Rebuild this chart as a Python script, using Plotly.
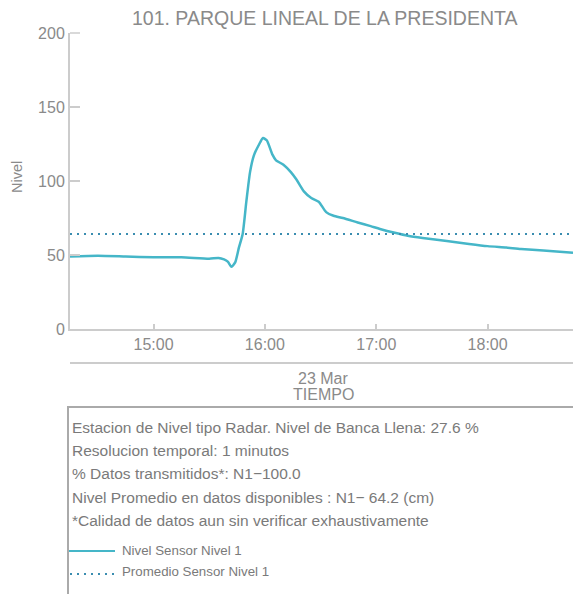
import plotly.graph_objects as go

# ---- data ----
times = ["2024-03-23 14:15", "2024-03-23 14:30", "2024-03-23 14:45", "2024-03-23 15:00",
         "2024-03-23 15:15", "2024-03-23 15:30", "2024-03-23 15:35", "2024-03-23 15:38",
         "2024-03-23 15:40", "2024-03-23 15:42", "2024-03-23 15:44", "2024-03-23 15:46",
         "2024-03-23 15:48", "2024-03-23 15:50", "2024-03-23 15:52", "2024-03-23 15:54",
         "2024-03-23 15:57", "2024-03-23 15:59", "2024-03-23 16:01", "2024-03-23 16:04",
         "2024-03-23 16:06", "2024-03-23 16:10", "2024-03-23 16:14", "2024-03-23 16:17",
         "2024-03-23 16:21", "2024-03-23 16:25", "2024-03-23 16:29", "2024-03-23 16:33",
         "2024-03-23 16:37", "2024-03-23 16:42", "2024-03-23 16:50", "2024-03-23 16:57",
         "2024-03-23 17:02", "2024-03-23 17:10", "2024-03-23 17:17", "2024-03-23 17:25",
         "2024-03-23 17:38", "2024-03-23 17:50", "2024-03-23 18:00", "2024-03-23 18:10",
         "2024-03-23 18:18", "2024-03-23 18:30", "2024-03-23 18:46"]
nivel = [49.0, 49.5, 49.0, 48.5,
         48.5, 47.5, 48.0, 47.0,
         45.5, 42.0, 45.0, 55.0,
         64.0, 86.0, 106.0, 117.0,
         125.0, 129.0, 127.5, 118.0,
         114.0, 111.0, 106.0, 101.0,
         93.0, 88.5, 86.0, 79.0,
         76.5, 75.0, 72.0, 69.5,
         67.6, 65.0, 63.0, 61.5,
         59.5, 57.5, 56.0, 55.0,
         54.0, 53.0, 51.5]
promedio = 64.2
x_range = ["2024-03-23 14:15", "2024-03-23 18:46"]
tick_vals = ["2024-03-23 15:00", "2024-03-23 16:00", "2024-03-23 17:00", "2024-03-23 18:00"]
tick_text = ["15:00", "16:00", "17:00", "18:00"]
y_ticks = [0, 50, 100, 150, 200]

title = "101. PARQUE LINEAL DE LA PRESIDENTA"
info_lines = ["Estacion de Nivel tipo Radar. Nivel de Banca Llena: 27.6 %",
              "Resolucion temporal: 1 minutos",
              "% Datos transmitidos*: N1\u2212100.0",
              "Nivel Promedio en datos disponibles : N1\u2212 64.2 (cm)",
              "*Calidad de datos aun sin verificar exhaustivamente"]
legend_labels = ["Nivel Sensor Nivel 1", "Promedio Sensor Nivel 1"]

# ---- styles ----
W, H = 573, 594
L, R, T, B = 70, 0, 33, 265
PW, PH = W - L - R, H - T - B
FONT = "Liberation Sans, Arial, sans-serif"
TXT = "#8a8a8a"
AX = "#cccccc"
LINE_C = "#45b6c8"
DOT_C = "#3a8db0"


def px(xp):
    return (xp - L) / PW


def py(yp):
    return (H - B - yp) / PH


fig = go.Figure()
fig.add_trace(go.Scatter(x=times, y=nivel, mode="lines",
                         line=dict(color=LINE_C, width=2.5, shape="spline", smoothing=0.6),
                         showlegend=False, hoverinfo="skip"))
fig.add_trace(go.Scatter(x=x_range, y=[promedio, promedio], mode="lines",
                         line=dict(color=DOT_C, width=2, dash="2px,5px"),
                         showlegend=False, hoverinfo="skip"))

shapes = [
    dict(type="line", xref="paper", yref="paper", x0=0, x1=px(80), y0=1, y1=1,
         line=dict(color=AX, width=1.5)),
    dict(type="line", xref="paper", yref="paper", x0=0, x1=1.05, y0=py(363), y1=py(363),
         line=dict(color=AX, width=2)),
    dict(type="rect", xref="paper", yref="paper", x0=px(68), x1=1.05, y0=py(407), y1=py(640),
         line=dict(color="#aaaaaa", width=2)),
    dict(type="line", xref="paper", yref="paper", x0=px(69), x1=px(115), y0=py(551), y1=py(551),
         line=dict(color=LINE_C, width=2)),
    dict(type="line", xref="paper", yref="paper", x0=px(70), x1=px(115), y0=py(574), y1=py(574),
         line=dict(color=DOT_C, width=2, dash="2px,5px")),
]

annotations = [
    dict(text=title, xref="paper", yref="paper", x=px(324), y=py(18), showarrow=False,
         xanchor="center", yanchor="middle", font=dict(size=19.5, color=TXT, family=FONT)),
    dict(text="Nivel", xref="paper", yref="paper", x=px(17), y=py(177), showarrow=False,
         textangle=-90, xanchor="center", yanchor="middle", font=dict(size=14.5, color=TXT, family=FONT)),
    dict(text="23 Mar", xref="paper", yref="paper", x=px(323), y=py(378), showarrow=False,
         xanchor="center", yanchor="middle", font=dict(size=16, color=TXT, family=FONT)),
    dict(text="TIEMPO", xref="paper", yref="paper", x=px(323), y=py(394), showarrow=False,
         xanchor="center", yanchor="middle", font=dict(size=16, color=TXT, family=FONT)),
]
line_y = [427, 450, 473, 497, 520]
for txt, yy in zip(info_lines, line_y):
    annotations.append(dict(text=txt, xref="paper", yref="paper", x=px(70), y=py(yy),
                            showarrow=False, xanchor="left", yanchor="middle",
                            font=dict(size=15.5, color="#7a7a7a", family=FONT)))
for txt, yy in zip(legend_labels, [550, 571]):
    annotations.append(dict(text=txt, xref="paper", yref="paper", x=px(120), y=py(yy),
                            showarrow=False, xanchor="left", yanchor="middle",
                            font=dict(size=13.3, color="#7a7a7a", family=FONT)))

fig.update_layout(
    width=W, height=H,
    margin=dict(l=L, r=R, t=T, b=B, pad=0),
    paper_bgcolor="white", plot_bgcolor="white",
    font=dict(family=FONT, color=TXT, size=14),
    shapes=shapes, annotations=annotations,
    xaxis=dict(type="date", range=x_range, tickvals=tick_vals, ticktext=tick_text,
               showgrid=False, zeroline=False, showline=True, linecolor=AX, linewidth=2,
               ticks="inside", ticklen=5, tickcolor=AX, tickwidth=1.5,
               tickfont=dict(size=16, color=TXT, family=FONT)),
    yaxis=dict(range=[0, 200], tickvals=y_ticks, showgrid=False, zeroline=False,
               showline=True, linecolor=AX, linewidth=2,
               ticks="inside", ticklen=10, tickcolor=AX, tickwidth=1.5,
               tickfont=dict(size=16, color=TXT, family=FONT)),
)

fig.write_html("out.html", config={"displayModeBar": False},
               post_script="document.body.style.margin='0';document.body.style.overflow='hidden';")
